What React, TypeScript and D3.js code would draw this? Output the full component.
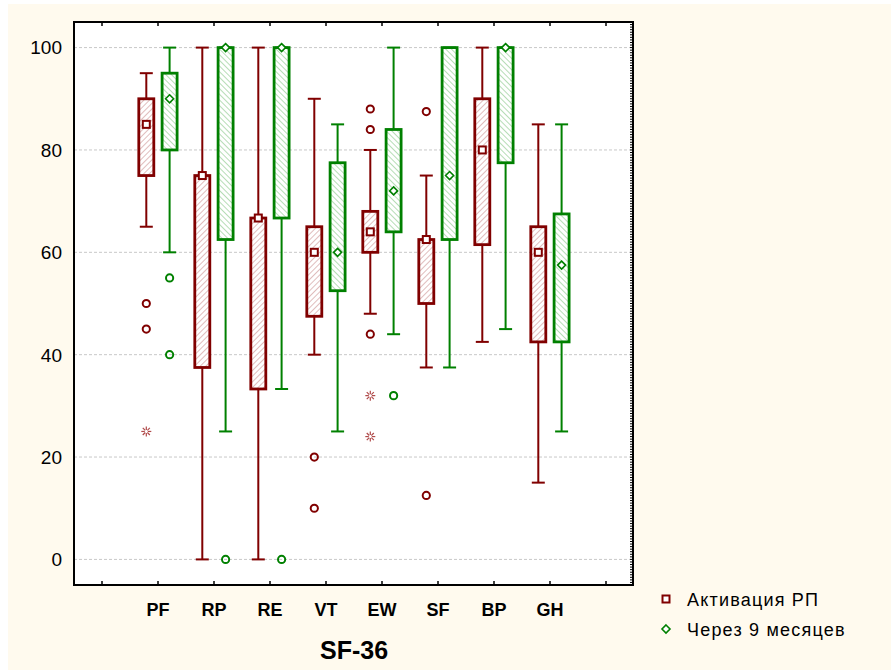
import * as d3 from "d3";
import React, { useRef, useEffect } from "react";

const categories = ["PF", "RP", "RE", "VT", "EW", "SF", "BP", "GH"];
const yTicks = [0, 20, 40, 60, 80, 100];
const seriesNames = ["Активация РП", "Через 9 месяцев"];
const axisTitle = "SF-36";

// Активация РП
const actMax = [95, 100, 100, 90, 80, 75, 100, 85];
const actQ3 = [90, 75, 66.7, 65, 68, 62.5, 90, 65];
const actMean = [85, 75, 66.7, 60, 64, 62.5, 80, 60];
const actQ1 = [75, 37.5, 33.3, 47.5, 60, 50, 61.5, 42.5];
const actMin = [65, 0, 0, 40, 48, 37.5, 42.5, 15];
const actOutliers = [[50, 45], [], [], [20, 10], [88, 84, 44], [87.5, 12.5], [], []];
const actExtremes = [[25], [], [], [], [32, 24], [], [], []];

// Через 9 месяцев
const fupMax = [100, 100, 100, 85, 100, 100, 100, 85];
const fupQ3 = [95, 100, 100, 77.5, 84, 100, 100, 67.5];
const fupMean = [90, 100, 100, 60, 72, 75, 100, 57.5];
const fupQ1 = [80, 62.5, 66.7, 52.5, 64, 62.5, 77.5, 42.5];
const fupMin = [60, 25, 33.3, 25, 44, 37.5, 45, 25];
const fupOutliers = [[55, 40], [0], [0], [], [32], [], [], []];
const fupExtremes = [[], [], [], [], [], [], [], []];

const RED = "#800000";
const GREEN = "#008000";

export default function App() {
  const ref = useRef<SVGSVGElement>(null);
  const W = 891;
  const H = 671;
  const left = 74, right = 634, top = 22, bottom = 585;

  useEffect(() => {
    const svg = d3.select(ref.current);
    svg.selectAll("*").remove();

    const defs = svg.append("defs");
    const hatch = (id: string, color: string, dir: number) => {
      const p = defs
        .append("pattern")
        .attr("id", id)
        .attr("patternUnits", "userSpaceOnUse")
        .attr("width", 4)
        .attr("height", 4)
        .attr("patternTransform", `rotate(${dir * 45})`);
      p.append("rect").attr("width", 4).attr("height", 4).attr("fill", "#fff");
      p.append("line")
        .attr("x1", 0).attr("y1", 0).attr("x2", 0).attr("y2", 4)
        .attr("stroke", color).attr("stroke-width", 1.3);
    };
    hatch("hatchRed", "#d09a9a", 1);
    hatch("hatchGreen", "#8fcb8f", -1);

    svg.append("rect")
      .attr("x", 8).attr("y", 4).attr("width", W - 8).attr("height", H - 5)
      .attr("fill", "#fffaee");

    const x = d3.scaleLinear().domain([-1.5, 8.5]).range([left, right]);
    const y = d3.scaleLinear().domain([-5, 105]).range([bottom, top]);

    svg.append("rect")
      .attr("x", left).attr("y", top)
      .attr("width", right - left).attr("height", bottom - top)
      .attr("fill", "#fff");

    // grid
    svg.append("g")
      .selectAll("line")
      .data(yTicks)
      .enter()
      .append("line")
      .attr("x1", left).attr("x2", right)
      .attr("y1", (d) => y(d)).attr("y2", (d) => y(d))
      .attr("stroke", "#c8c8c8")
      .attr("stroke-width", 1)
      .attr("stroke-dasharray", "3,2");

    const series = [
      { max: actMax, q3: actQ3, mean: actMean, q1: actQ1, min: actMin, out: actOutliers, ext: actExtremes, color: RED, fill: "url(#hatchRed)", off: -11.7, marker: "square" },
      { max: fupMax, q3: fupQ3, mean: fupMean, q1: fupQ1, min: fupMin, out: fupOutliers, ext: fupExtremes, color: GREEN, fill: "url(#hatchGreen)", off: 11.6, marker: "diamond" },
    ];

    const drawMarker = (g: any, kind: string, cx: number, cy: number, color: string) => {
      if (kind === "square") {
        g.append("rect")
          .attr("x", cx - 3.5).attr("y", cy - 3.5)
          .attr("width", 7).attr("height", 7)
          .attr("fill", "#fff").attr("stroke", color).attr("stroke-width", 2);
      } else {
        g.append("path")
          .attr("d", `M${cx},${cy - 4}L${cx + 4},${cy}L${cx},${cy + 4}L${cx - 4},${cy}Z`)
          .attr("fill", "#fff").attr("stroke", color).attr("stroke-width", 1.6);
      }
    };

    series.forEach((s) => {
      const g = svg.append("g");
      categories.forEach((c, i) => {
        const cx = x(i) + s.off;
        g.append("line")
          .attr("x1", cx).attr("x2", cx)
          .attr("y1", y(s.min[i])).attr("y2", y(s.max[i]))
          .attr("stroke", s.color).attr("stroke-width", 2);
        [s.min[i], s.max[i]].forEach((v) => {
          g.append("line")
            .attr("x1", cx - 6.5).attr("x2", cx + 6.5)
            .attr("y1", y(v)).attr("y2", y(v))
            .attr("stroke", s.color).attr("stroke-width", 2);
        });
        g.append("rect")
          .attr("x", cx - 7.5).attr("width", 15)
          .attr("y", y(s.q3[i])).attr("height", y(s.q1[i]) - y(s.q3[i]))
          .attr("fill", s.fill)
          .attr("stroke", s.color).attr("stroke-width", 2.8);
        drawMarker(g, s.marker, cx, y(s.mean[i]), s.color);
        s.out[i].forEach((v) => {
          g.append("circle")
            .attr("cx", cx).attr("cy", y(v)).attr("r", 3.6)
            .attr("fill", "none").attr("stroke", s.color).attr("stroke-width", 2);
        });
        s.ext[i].forEach((v) => {
          const cy = y(v);
          d3.range(8).forEach((k) => {
            const a = (k * Math.PI) / 4;
            g.append("line")
              .attr("x1", cx + Math.cos(a) * 1.5).attr("y1", cy + Math.sin(a) * 1.5)
              .attr("x2", cx + Math.cos(a) * 5).attr("y2", cy + Math.sin(a) * 5)
              .attr("stroke", "#b04a4a").attr("stroke-width", 1.2);
          });
        });
      });
    });

    // frame
    svg.append("rect")
      .attr("x", left).attr("y", top)
      .attr("width", right - left - 1).attr("height", bottom - top)
      .attr("fill", "none").attr("stroke", "#000").attr("stroke-width", 2);

    const xTicks = d3.range(-1, 9);
    const tg = svg.append("g").attr("stroke", "#000").attr("stroke-width", 1.5);
    xTicks.forEach((t) => {
      tg.append("line").attr("x1", x(t)).attr("x2", x(t)).attr("y1", top).attr("y2", top + 4);
      tg.append("line").attr("x1", x(t)).attr("x2", x(t)).attr("y1", bottom).attr("y2", bottom - 4);
    });
    // dense ticks on the right edge
    d3.range(-5, 105.01, 0.5).forEach((v) => {
      tg.append("line")
        .attr("x1", right - 1).attr("x2", right - 4)
        .attr("y1", y(v)).attr("y2", y(v))
        .attr("stroke-width", 1);
    });

    // y labels
    svg.append("g")
      .selectAll("text")
      .data(yTicks)
      .enter()
      .append("text")
      .attr("x", 62)
      .attr("y", (d) => y(d))
      .attr("dy", "0.36em")
      .attr("text-anchor", "end")
      .attr("font-family", "Liberation Sans, Arial, sans-serif")
      .attr("font-size", 19)
      .attr("fill", "#000")
      .text((d) => d);

    // x labels
    svg.append("g")
      .selectAll("text")
      .data(categories)
      .enter()
      .append("text")
      .attr("x", (d, i) => x(i))
      .attr("y", 616)
      .attr("text-anchor", "middle")
      .attr("font-family", "Liberation Sans, Arial, sans-serif")
      .attr("font-weight", "bold")
      .attr("font-size", 18)
      .attr("fill", "#000")
      .text((d) => d);

    svg.append("text")
      .attr("x", (left + right) / 2)
      .attr("y", 659)
      .attr("text-anchor", "middle")
      .attr("font-family", "Liberation Sans, Arial, sans-serif")
      .attr("font-weight", "bold")
      .attr("font-size", 25)
      .attr("fill", "#000")
      .text(axisTitle);

    // legend
    const lg = svg.append("g");
    seriesNames.forEach((name, i) => {
      const ly = 599 + i * 30;
      drawMarker(lg, series[i].marker, 666, ly, series[i].color);
      lg.append("text")
        .attr("x", 687)
        .attr("y", ly + 7)
        .attr("font-family", "Liberation Sans, Arial, sans-serif")
        .attr("font-size", 18)
        .attr("letter-spacing", 1.2)
        .attr("fill", "#000")
        .text(name);
    });
  }, []);

  return (
    <svg
      ref={ref}
      width={W}
      height={H}
      style={{ position: "absolute", left: 0, top: 0, background: "#fff" }}
    ></svg>
  );
}
